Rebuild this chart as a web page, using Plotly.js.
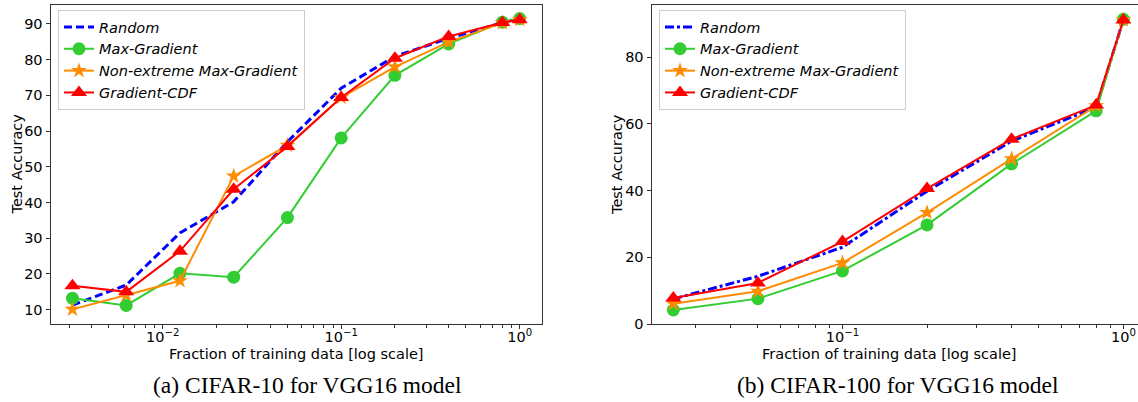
<!DOCTYPE html>
<html>
<head>
<meta charset="utf-8">
<script src="https://cdn.plot.ly/plotly-3.0.1.min.js"></script>
<style>html,body{margin:0;padding:0;background:#fff;}#chart{width:1138px;height:402px;}</style>
</head>
<body>
<div id="chart"></div>
<script>
// ---------- data ----------
const seriesNames = ["Random", "Max-Gradient", "Non-extreme Max-Gradient", "Gradient-CDF"];

const xCifar10 = [0.003125, 0.00625, 0.0125, 0.025, 0.05, 0.1, 0.2, 0.4, 0.8, 1.0];
const c10Random   = [11.3, 16.9, 31.5, 40.2, 57.0, 72.0, 80.9, 86.0, 90.3, 91.5];
const c10MaxGrad  = [13.2, 11.2, 20.2, 19.1, 35.8, 58.1, 75.6, 84.4, 90.5, 91.5];
const c10NonExt   = [10.1, 14.1, 18.1, 47.4, 56.0, 69.4, 78.0, 84.9, 90.3, 91.2];
const c10GradCDF  = [16.7, 15.0, 26.4, 43.7, 55.7, 69.4, 80.4, 86.5, 90.4, 91.2];

const xCifar100 = [0.025, 0.05, 0.1, 0.2, 0.4, 0.8, 1.0];
const c100Random  = [7.5, 14.3, 23.0, 39.8, 54.8, 65.0, 91.2];
const c100MaxGrad = [4.2, 7.6, 15.9, 29.7, 48.0, 63.9, 91.3];
const c100NonExt  = [6.1, 9.8, 18.3, 33.4, 49.5, 65.4, 91.1];
const c100GradCDF = [7.8, 12.3, 24.7, 40.6, 55.4, 65.6, 91.1];

const xTickVals10 = [0.01, 0.1, 1];
const xTickText10 = ["10<sup>\u22122</sup>", "10<sup>\u22121</sup>", "10<sup>0</sup>"];
const xTickVals100 = [0.1, 1];
const xTickText100 = ["10<sup>\u22121</sup>", "10<sup>0</sup>"];
const yTickVals10 = [10, 20, 30, 40, 50, 60, 70, 80, 90];
const yTickVals100 = [0, 20, 40, 60, 80];

const xTitle = "Fraction of training data [log scale]";
const yTitle = "Test Accuracy";
const captions = ["(a) CIFAR-10 for VGG16 model", "(b) CIFAR-100 for VGG16 model"];

// ---------- styling ----------
const W = 1138, H = 402;
const px = v => v / W;
const py = v => 1 - v / H;
const FONT = "DejaVu Sans";
const FS = 14.5;
const AX = "#333";

const colors = ["#0000ff", "#32cd32", "#ff8c00", "#ff0000"];
const symbols = ["circle", "circle", "star", "triangle-up"];
const sizes = [0, 13, 12, 14];

function minorVals(lo, hi) {
  const out = [];
  for (let e = lo; e <= hi; e++) for (let m = 2; m <= 9; m++) out.push(m * Math.pow(10, e));
  return out;
}

function makeTraces(x, ys, xa, ya, legendId, dashRandom) {
  return ys.map((y, i) => {
    const t = {
      x: x, y: y, name: seriesNames[i], xaxis: xa, yaxis: ya, legend: legendId,
      type: "scatter", mode: i === 0 ? "lines" : "lines+markers",
      line: {color: colors[i], width: i === 0 ? 3 : 2},
      hoverinfo: "skip"
    };
    if (i === 0) t.line.dash = dashRandom;
    else t.marker = {symbol: symbols[i], size: sizes[i], color: colors[i]};
    return t;
  });
}

const traces = [
  ...makeTraces(xCifar10, [c10Random, c10MaxGrad, c10NonExt, c10GradCDF], "x", "y", "legend", "8px,4px"),
  ...makeTraces(xCifar100, [c100Random, c100MaxGrad, c100NonExt, c100GradCDF], "x2", "y2", "legend2", "9px,3px,3px,3px")
];

function xaxisCfg(domain, range, tv, tt, mirror) {
  return {
    type: "log", domain: domain, range: range,
    tickmode: "array", tickvals: tv, ticktext: tt,
    ticks: "outside", ticklen: 4, tickwidth: 1, tickcolor: AX,
    ticklabelstandoff: -5,
    showline: true, linecolor: AX, linewidth: 1.2, mirror: mirror,
    showgrid: false, zeroline: false,
    tickfont: {family: FONT, size: FS, color: "#000"},
    minor: {tickmode: "array", tickvals: minorVals(-3, 0), ticks: "outside", ticklen: 2.5, tickwidth: 1, tickcolor: AX, showgrid: false}
  };
}
function yaxisCfg(domain, range, tv, mirror) {
  return {
    domain: domain, range: range,
    tickmode: "array", tickvals: tv,
    ticks: "outside", ticklen: 4, tickwidth: 1, tickcolor: AX,
    showline: true, linecolor: AX, linewidth: 1.2, mirror: mirror,
    showgrid: false, zeroline: false,
    tickfont: {family: FONT, size: FS, color: "#000"}
  };
}

const yDom = [py(324), py(5)];
const xa1 = xaxisCfg([px(50.7), px(542)], [Math.log10(0.00236), 0.125], xTickVals10, xTickText10, true);
xa1.anchor = "y";
const xa2 = xaxisCfg([px(651.7), 1], [-1.679, 0.052], xTickVals100, xTickText100, true);
xa2.anchor = "y2";
const ya1 = yaxisCfg(yDom, [6.0, 95.3], yTickVals10, true);
ya1.anchor = "x";
const ya2 = yaxisCfg(yDom, [0, 95.6], yTickVals100, false);
ya2.anchor = "x2";

const legendCommon = {
  bgcolor: "rgba(255,255,255,0.85)", bordercolor: "#cccccc", borderwidth: 1,
  font: {family: FONT, size: FS, color: "#000", style: "italic"},
  xanchor: "left", yanchor: "top", itemwidth: 30, tracegroupgap: 0
};

const annFont = {family: FONT, size: FS, color: "#000"};
const capFont = {family: "Liberation Serif", size: 23.5, color: "#000"};

const layout = {
  width: W, height: H,
  margin: {l: 0, r: 0, t: 0, b: 0},
  paper_bgcolor: "#fff", plot_bgcolor: "#fff",
  showlegend: true,
  xaxis: xa1, yaxis: ya1, xaxis2: xa2, yaxis2: ya2,
  legend: Object.assign({}, legendCommon, {x: px(58), y: py(10)}),
  legend2: Object.assign({}, legendCommon, {x: px(659), y: py(10)}),
  annotations: [
    {text: xTitle, xref: "paper", yref: "paper", x: px(296.3), y: py(354), showarrow: false, font: annFont, xanchor: "center", yanchor: "middle"},
    {text: xTitle, xref: "paper", yref: "paper", x: px(889), y: py(354), showarrow: false, font: annFont, xanchor: "center", yanchor: "middle"},
    {text: yTitle, xref: "paper", yref: "paper", x: px(17), y: py(164.5), showarrow: false, font: annFont, textangle: -90, xanchor: "center", yanchor: "middle"},
    {text: yTitle, xref: "paper", yref: "paper", x: px(617.5), y: py(164.5), showarrow: false, font: annFont, textangle: -90, xanchor: "center", yanchor: "middle"},
    {text: captions[0], xref: "paper", yref: "paper", x: px(307), y: py(385), showarrow: false, font: capFont, xanchor: "center", yanchor: "middle"},
    {text: captions[1], xref: "paper", yref: "paper", x: px(898), y: py(385), showarrow: false, font: capFont, xanchor: "center", yanchor: "middle"}
  ]
};

Plotly.newPlot("chart", traces, layout, {staticPlot: true, displayModeBar: false});
</script>
</body>
</html>
